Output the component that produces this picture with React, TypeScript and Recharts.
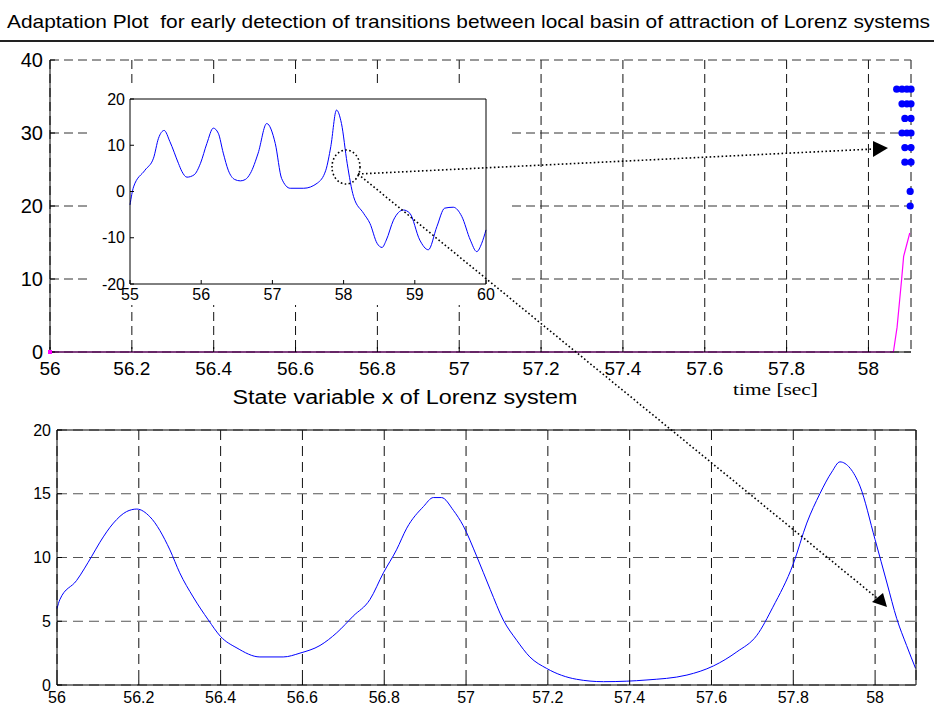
import React from "react";
import { ComposedChart, LineChart, Line, Scatter, XAxis, YAxis, CartesianGrid } from "recharts";

const FONT = "'Liberation Sans', Arial, Helvetica, sans-serif";

// upper panel (adaptation plot)
const upperTicksX = [56, 56.2, 56.4, 56.6, 56.8, 57, 57.2, 57.4, 57.6, 57.8, 58];
const upperTicksY = [0, 10, 20, 30, 40];
const adaptTime = [56, 58.061, 58.07, 58.081, 58.086, 58.101];
const adaptValue = [0, 0, 3.4, 9.9, 13.1, 16.3];
const alarmTime = [
  58.069, 58.082, 58.094, 58.104,
  58.082, 58.094, 58.104,
  58.089, 58.104,
  58.082, 58.094, 58.104,
  58.089, 58.104,
  58.089, 58.104,
  58.102,
  58.102,
];
const alarmValue = [
  36, 36, 36, 36,
  34, 34, 34,
  32, 32,
  30, 30, 30,
  28, 28,
  26, 26,
  22,
  20,
];

// inset (x over 55..60)
const insetTicksX = [55, 56, 57, 58, 59, 60];
const insetTicksY = [-20, -10, 0, 10, 20];
const insetTime = [
  55.0, 55.05, 55.21, 55.33, 55.4, 55.48, 55.56, 55.68, 55.73, 55.8, 55.9, 55.99, 56.08, 56.17,
  56.24, 56.31, 56.38, 56.47, 56.55, 56.62, 56.69, 56.8, 56.92, 57.04, 57.13, 57.25, 57.44,
  57.63, 57.75, 57.82, 57.9, 57.97, 58.05, 58.14, 58.28, 58.37, 58.47, 58.54, 58.6, 58.7,
  58.84, 58.93, 59.07, 59.19, 59.31, 59.42, 59.54, 59.66, 59.78, 59.87, 59.94, 60.0,
];
const insetValue = [
  -2.9, 1.0, 4.6, 7.2, 11.5, 13.2, 10.8, 6.1, 4.3, 3.1, 3.6, 6.1, 10.4, 13.7,
  12.6, 8.3, 4.6, 2.6, 2.3, 2.6, 3.9, 8.3, 14.7, 10.4, 2.8, 0.7, 0.7,
  1.8, 4.6, 9.7, 17.6, 14.7, 6.1, -1.1, -4.7, -6.9, -11.2, -12.1, -10.5, -6.2,
  -4.0, -4.7, -10.5, -12.6, -7.6, -3.6, -3.4, -5.4, -10.5, -13, -11.2, -8.3,
];

// lower panel (state variable x)
const lowerTicksX = upperTicksX;
const lowerTicksY = [0, 5, 10, 15, 20];
const lowerTime = [
  56.0, 56.007, 56.048, 56.085, 56.105, 56.138, 56.17, 56.195, 56.227, 56.276, 56.3, 56.333,
  56.37, 56.4, 56.44, 56.496, 56.553, 56.594, 56.643, 56.684, 56.724, 56.765, 56.798, 56.83,
  56.855, 56.896, 56.92, 56.94, 56.969, 56.993, 57.026, 57.059, 57.091, 57.124, 57.156,
  57.197, 57.27, 57.336, 57.393, 57.44, 57.54, 57.605, 57.662, 57.711, 57.75, 57.8, 57.833,
  57.865, 57.894, 57.914, 57.939, 57.963, 58.0, 58.029, 58.053, 58.077, 58.099,
];
const lowerValue = [
  6.0, 6.7, 8.2, 10.1, 11.2, 12.7, 13.6, 13.8, 13.2, 10.6, 8.8, 6.9,
  5.1, 3.8, 2.9, 2.2, 2.2, 2.5, 3.1, 4.1, 5.4, 6.7, 8.8, 10.6,
  12.3, 14.0, 14.7, 14.7, 13.7, 12.5, 10.1, 7.5, 5.1, 3.5, 2.2,
  1.3, 0.45, 0.26, 0.3, 0.39, 0.78, 1.5, 2.6, 3.9, 6.1, 9.5, 12.7,
  15.0, 16.7, 17.5, 17.0, 15.6, 11.4, 8.0, 5.2, 3.1, 1.3,
];

const zip = (ts: number[], vs: number[]) => ts.map((t, i) => ({ t, v: vs[i] }));

const adaptData = zip(adaptTime, adaptValue);
const alarmData = zip(alarmTime, alarmValue);
const insetData = zip(insetTime, insetValue);
const lowerData = zip(lowerTime, lowerValue);

const dotted = { stroke: "#000", strokeWidth: 1.6, strokeDasharray: "1.6 2.4", fill: "none" };

export default function App() {
  return (
    <div style={{ position: "absolute", left: 0, top: 0, width: 934, height: 708, background: "#fff", fontFamily: FONT }}>
      {/* upper panel */}
      <div style={{ position: "absolute", left: 0, top: 0 }}>
        <ComposedChart width={934} height={400} margin={{ top: 60, right: 23, bottom: 18, left: 0 }}>
          <CartesianGrid horizontal={false} stroke="#111" strokeDasharray="9 5" />
          <CartesianGrid vertical={false} stroke="#333" strokeDasharray="9 5" />
          <XAxis
            dataKey="t"
            type="number"
            domain={[56, 58.104]}
            ticks={upperTicksX}
            height={30}
            tickSize={-5}
            tickMargin={15}
            stroke="#000"
            tick={{ fontSize: 19, fill: "#000", fontFamily: FONT }}
          />
          <YAxis
            dataKey="v"
            type="number"
            domain={[0, 40]}
            ticks={upperTicksY}
            width={50}
            tickSize={-5}
            tickMargin={12}
            stroke="#000"
            tick={{ fontSize: 20, fill: "#000", fontFamily: FONT }}
          />
          <Line
            data={adaptData}
            dataKey="v"
            type="linear"
            stroke="#ff00ff"
            strokeWidth={1.2}
            isAnimationActive={false}
            dot={(p: any) =>
              p.index === 0 ? (
                <rect key="first" x={p.cx - 2} y={p.cy - 2} width={4} height={4} fill="#ff00ff" />
              ) : (
                <g key={"d" + p.index} />
              )
            }
          />
          <Scatter
            data={alarmData}
            fill="#0000ff"
            isAnimationActive={false}
            shape={(p: any) => <circle cx={p.cx} cy={p.cy} r={3.6} fill="#0000ff" />}
          />
        </ComposedChart>
      </div>

      {/* inset */}
      <div style={{ position: "absolute", left: 88, top: 88, width: 422, height: 217, background: "#fff" }}>
        <LineChart width={422} height={217} margin={{ top: 10, right: 23, bottom: 0, left: 0 }}>
          <XAxis
            dataKey="t"
            type="number"
            domain={[55, 60]}
            ticks={insetTicksX}
            height={21}
            tickSize={-4}
            tickMargin={9}
            stroke="#000"
            tick={{ fontSize: 16, fill: "#000", fontFamily: FONT }}
          />
          <XAxis xAxisId="top" dataKey="t" orientation="top" type="number" domain={[55, 60]} ticks={insetTicksX} height={1} tick={false} tickSize={-4} stroke="#000" />
          <YAxis
            type="number"
            domain={[-20, 20]}
            ticks={insetTicksY}
            width={42}
            tickSize={-4}
            tickMargin={9}
            stroke="#000"
            tick={{ fontSize: 16, fill: "#000", fontFamily: FONT }}
          />
          <YAxis yAxisId="right" orientation="right" type="number" domain={[-20, 20]} ticks={insetTicksY} width={1} tick={false} tickSize={-4} stroke="#000" />
          <Line xAxisId="top" yAxisId="right" data={insetData} dataKey="v" stroke="none" dot={false} isAnimationActive={false} />
          <Line data={insetData} dataKey="v" type="monotone" stroke="#0000ff" strokeWidth={1} dot={false} isAnimationActive={false} />
        </LineChart>
      </div>

      {/* lower panel */}
      <div style={{ position: "absolute", left: 0, top: 400 }}>
        <LineChart width={934} height={308} margin={{ top: 29, right: 17, bottom: 0, left: 0 }}>
          <CartesianGrid horizontal={false} stroke="#111" strokeDasharray="10 6" />
          <CartesianGrid vertical={false} stroke="#555" strokeDasharray="10 6" />
          <XAxis
            dataKey="t"
            type="number"
            domain={[56, 58.1]}
            ticks={lowerTicksX}
            height={23}
            tickSize={-5}
            tickMargin={12}
            stroke="#000"
            tick={{ fontSize: 16, fill: "#000", fontFamily: FONT }}
          />
          <XAxis xAxisId="top" dataKey="t" orientation="top" type="number" domain={[56, 58.1]} ticks={lowerTicksX} height={1} tick={false} tickSize={-5} stroke="#000" />
          <YAxis
            type="number"
            domain={[0, 20]}
            ticks={lowerTicksY}
            width={57}
            tickSize={-5}
            tickMargin={11}
            stroke="#000"
            tick={{ fontSize: 16, fill: "#000", fontFamily: FONT }}
          />
          <YAxis yAxisId="right" orientation="right" type="number" domain={[0, 20]} ticks={lowerTicksY} width={1} tick={false} tickSize={-5} stroke="#000" />
          <Line xAxisId="top" yAxisId="right" data={lowerData} dataKey="v" stroke="none" dot={false} isAnimationActive={false} />
          <Line data={lowerData} dataKey="v" type="monotone" stroke="#0000ff" strokeWidth={1} dot={false} isAnimationActive={false} />
        </LineChart>
      </div>

      {/* titles and zoom annotations */}
      <svg width={934} height={708} style={{ position: "absolute", left: 0, top: 0, pointerEvents: "none" }}>
        <text x={7} y={28} fontSize={19} fontFamily={FONT} textLength={923} lengthAdjust="spacingAndGlyphs" style={{ whiteSpace: "pre" }}>
          Adaptation Plot  for early detection of transitions between local basin of attraction of Lorenz systems
        </text>
        <line x1={0} x2={934} y1={41} y2={41} stroke="#222" strokeWidth={2} />
        <text x={405} y={404} textAnchor="middle" fontSize={20} fontFamily={FONT} textLength={345} lengthAdjust="spacingAndGlyphs">
          State variable x of Lorenz system
        </text>
        <text x={733} y={395} fontSize={17} fontFamily="'Liberation Serif', 'Times New Roman', serif" textLength={85} lengthAdjust="spacingAndGlyphs">
          time [sec]
        </text>
        <ellipse cx={346} cy={167} rx={14} ry={17} {...dotted} />
        <line x1={358} y1={174} x2={874} y2={149} {...dotted} />
        <polygon points="888,148 873,141 873,157" fill="#000" />
        <line x1={358} y1={174} x2={877} y2={598} {...dotted} />
        <polygon points="887,607 872,602 883,593" fill="#000" />
      </svg>
    </div>
  );
}
